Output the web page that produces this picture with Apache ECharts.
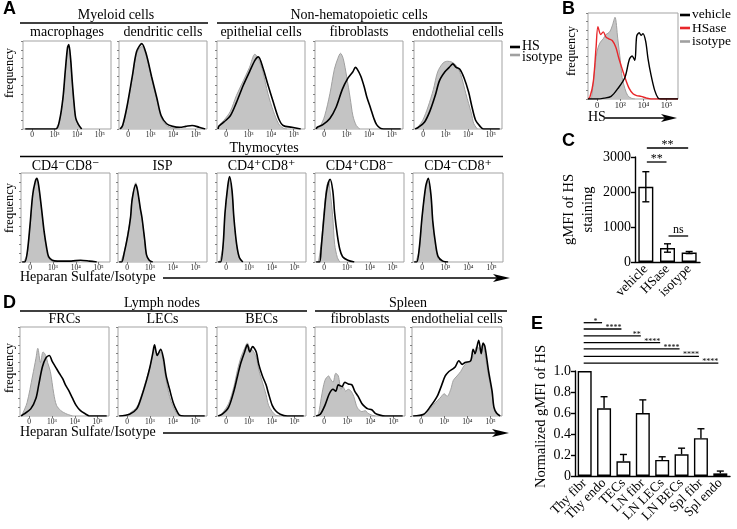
<!DOCTYPE html>
<html><head><meta charset="utf-8">
<script src="https://cdn.jsdelivr.net/npm/echarts@6/dist/echarts.min.js"></script>
<style>html,body{margin:0;padding:0;background:#fff}#c{width:737px;height:529px}</style>
</head><body><div id="c"></div>
<script>
// ---------- DATA (x = display position in decades, 2 = "0"; y = % of max) ----------
const tickValues = [2, 3, 4, 5];
const tickLabels = {2: '0', 3: '10³', 4: '10⁴', 5: '10⁵'};

// Panel A, myeloid / non-hematopoietic
const macroHS  = [[1.7,0],[3.05,0],[3.22,10],[3.37,35],[3.47,65],[3.57,92],[3.63,96],[3.71,80],[3.78,55],[3.86,30],[3.94,12],[4.06,5],[4.2,0]];
const macroIso = [[3.05,0],[3.22,9],[3.37,33],[3.47,62],[3.57,89],[3.63,94],[3.71,78],[3.78,52],[3.86,28],[3.94,11],[4.06,4],[4.17,0]];
const dcHS  = [[1.65,0],[1.76,4],[1.95,25],[2.19,60],[2.38,88],[2.61,97],[2.81,85],[3.04,60],[3.28,35],[3.47,15],[3.71,6],[3.98,3],[4.3,2],[4.56,3],[4.84,4],[5.15,2],[5.42,0]];
const dcIso = [[1.65,0],[1.76,3],[1.95,23],[2.19,58],[2.38,86],[2.61,94],[2.81,83],[3.04,58],[3.28,33],[3.47,13],[3.71,4],[3.98,1],[4.3,0]];
const epiHS  = [[1.65,0],[1.68,3],[1.91,8],[2.19,15],[2.46,30],[2.77,50],[3.04,65],[3.28,78],[3.43,82],[3.63,70],[3.86,50],[4.1,30],[4.33,12],[4.53,4],[4.92,2],[5.31,0]];
const epiIso = [[1.65,0],[1.68,4],[1.91,10],[2.19,20],[2.46,38],[2.77,55],[3.04,70],[3.28,85],[3.43,80],[3.63,65],[3.86,40],[4.1,20],[4.33,6],[4.53,1],[4.7,0]];
const fibHS  = [[1.65,0],[1.7,2],[1.95,5],[2.26,12],[2.54,25],[2.81,45],[3.04,57],[3.28,65],[3.39,70],[3.47,68],[3.63,60],[3.78,48],[3.9,36],[4.06,24],[4.21,12],[4.33,5],[4.49,1],[4.64,0],[5.4,0]];
const fibIso = [[1.7,0],[1.83,3],[2.03,15],[2.26,40],[2.46,68],[2.61,80],[2.73,86],[2.85,80],[3.0,60],[3.16,35],[3.28,15],[3.43,4],[3.59,0]];
const endHS  = [[1.65,0],[1.8,2],[2.07,8],[2.3,20],[2.54,38],[2.73,55],[2.97,65],[3.16,70],[3.32,74],[3.47,70],[3.63,68],[3.82,58],[4.02,42],[4.17,25],[4.33,10],[4.53,3],[4.68,0],[5.4,0]];
const endIso = [[1.7,0],[1.8,3],[1.99,10],[2.22,25],[2.46,45],[2.65,65],[2.89,75],[3.08,77],[3.28,76],[3.47,72],[3.67,62],[3.9,40],[4.14,18],[4.25,6],[4.41,0]];
// Panel A, thymocytes
const dnHS  = [[1.65,0],[1.76,0],[1.87,10],[1.99,40],[2.11,75],[2.22,90],[2.3,94],[2.38,85],[2.5,60],[2.61,35],[2.73,15],[2.81,6],[2.97,2],[3.2,1],[3.8,1],[4.21,2],[4.6,1],[4.92,0]];
const dnIso = [[1.72,0],[1.87,9],[1.99,38],[2.11,73],[2.22,88],[2.3,92],[2.38,83],[2.5,57],[2.61,32],[2.73,12],[2.81,4],[2.97,1],[3.2,0]];
const ispHS  = [[1.65,0],[1.76,0],[1.87,10],[2.03,30],[2.15,50],[2.22,70],[2.38,87],[2.46,80],[2.58,60],[2.65,50],[2.77,25],[2.85,8],[2.97,2],[3.12,0]];
const ispIso = [[1.72,0],[1.87,11],[2.03,32],[2.15,52],[2.22,72],[2.38,89],[2.46,80],[2.58,58],[2.65,48],[2.77,23],[2.85,7],[2.97,1],[3.12,0]];
const dpHS  = [[1.65,0],[1.76,0],[1.87,20],[1.95,55],[2.07,85],[2.15,96],[2.26,80],[2.34,50],[2.46,20],[2.58,5],[2.73,0]];
const dpIso = [[1.72,0],[1.87,18],[1.95,53],[2.07,83],[2.15,93],[2.26,78],[2.34,48],[2.46,18],[2.58,4],[2.73,0]];
const cd4HS  = [[1.65,0],[1.8,0],[1.87,15],[1.99,50],[2.11,80],[2.26,93],[2.38,80],[2.46,55],[2.58,30],[2.69,14],[2.81,6],[3.04,2],[3.32,0]];
const cd4Iso = [[1.75,0],[1.87,20],[1.99,55],[2.11,85],[2.19,90],[2.26,80],[2.38,50],[2.46,20],[2.58,5],[2.69,0]];
const cd8HS  = [[1.65,0],[1.76,0],[1.87,15],[1.99,50],[2.15,85],[2.26,94],[2.38,75],[2.46,45],[2.58,20],[2.69,6],[2.89,1],[3.12,0]];
const cd8Iso = [[1.72,0],[1.87,13],[1.99,48],[2.15,83],[2.26,91],[2.38,72],[2.46,42],[2.58,17],[2.69,4],[2.89,0]];
// Panel D
const frcHS  = [[1.65,0],[1.76,2],[2.07,8],[2.3,20],[2.42,35],[2.58,55],[2.73,65],[2.89,68],[3.0,62],[3.16,55],[3.32,48],[3.47,42],[3.59,35],[3.75,28],[3.9,20],[4.06,12],[4.25,6],[4.49,2],[4.64,0],[5.4,0]];
const frcIso = [[1.65,0],[1.72,3],[1.91,15],[2.15,45],[2.3,65],[2.38,76],[2.5,60],[2.61,72],[2.73,68],[2.81,60],[2.93,50],[3.08,25],[3.2,12],[3.39,6],[3.51,4],[3.67,2],[3.9,0]];
const lecHS  = [[1.65,0],[2.11,2],[2.42,8],[2.61,20],[2.85,40],[3.0,55],[3.12,70],[3.2,80],[3.32,68],[3.47,75],[3.59,65],[3.71,45],[3.86,30],[4.02,15],[4.17,6],[4.29,1],[4.5,0],[5.4,0]];
const lecIso = [[1.9,0],[2.11,3],[2.42,10],[2.61,22],[2.85,42],[3.0,55],[3.12,68],[3.2,76],[3.32,70],[3.47,72],[3.59,60],[3.71,40],[3.86,22],[4.02,10],[4.17,3],[4.29,0]];
const becHS  = [[1.65,0],[1.83,2],[2.11,10],[2.34,28],[2.5,45],[2.65,60],[2.81,72],[2.93,80],[3.04,72],[3.16,78],[3.32,72],[3.43,58],[3.59,45],[3.75,35],[3.86,25],[4.02,12],[4.17,6],[4.37,2],[4.68,0],[5.4,0]];
const becIso = [[1.7,0],[1.83,3],[2.11,14],[2.34,33],[2.5,52],[2.65,66],[2.81,76],[2.93,82],[3.04,76],[3.16,74],[3.32,66],[3.43,52],[3.59,38],[3.75,24],[3.86,12],[4.02,5],[4.17,1],[4.37,0]];
const splFibHS  = [[1.65,0],[1.83,2],[2.03,12],[2.22,25],[2.38,30],[2.5,28],[2.61,35],[2.77,33],[2.89,38],[3.04,36],[3.2,35],[3.32,28],[3.47,22],[3.63,14],[3.78,10],[3.9,8],[4.06,7],[4.21,3],[4.41,1],[4.64,0],[5.4,0]];
const splFibIso = [[1.7,0],[1.76,3],[1.87,20],[2.03,40],[2.19,45],[2.26,42],[2.38,38],[2.5,48],[2.61,45],[2.73,30],[2.81,33],[2.93,28],[3.04,30],[3.16,28],[3.28,22],[3.39,12],[3.47,8],[3.63,5],[3.78,6],[3.9,3],[4.06,1],[4.21,0]];
const splEndHS  = [[1.65,0],[2.11,2],[2.38,10],[2.69,22],[2.89,35],[3.04,45],[3.2,50],[3.32,52],[3.47,55],[3.63,62],[3.78,58],[3.9,60],[4.14,62],[4.25,75],[4.33,70],[4.49,85],[4.6,70],[4.68,82],[4.76,78],[4.92,50],[5.07,28],[5.15,10],[5.27,3],[5.42,0]];
const splEndIso = [[1.9,0],[2.11,2],[2.38,8],[2.61,15],[2.81,20],[3.0,25],[3.12,22],[3.28,30],[3.39,40],[3.55,45],[3.71,50],[3.82,55],[3.98,60],[4.14,62],[4.29,70],[4.41,78],[4.56,75],[4.68,82],[4.76,70],[4.92,45],[5.07,25],[5.15,8],[5.27,2],[5.42,0]];
// Panel B
const bVehicle = [[1.6,0],[2.0,0],[2.3,1],[2.6,3],[2.89,12],[3.2,25],[3.39,46],[3.51,50],[3.63,45],[3.71,73],[3.82,77],[3.9,74],[3.98,76],[4.1,67],[4.2,47],[4.33,28],[4.49,10],[4.64,1],[4.75,0],[5.5,0]];
const bHSase   = [[1.6,0],[1.68,2],[1.83,20],[1.95,60],[2.03,84],[2.15,75],[2.26,78],[2.38,72],[2.5,70],[2.65,68],[2.81,60],[2.93,48],[3.08,35],[3.24,22],[3.39,12],[3.55,6],[3.71,4],[3.9,3],[4.14,1],[4.33,0],[5.5,0]];
const bIsotype = [[1.7,0],[1.76,3],[1.87,30],[1.99,55],[2.11,65],[2.26,70],[2.38,75],[2.54,78],[2.65,85],[2.77,95],[2.89,70],[3.0,45],[3.08,25],[3.2,12],[3.32,4],[3.47,1],[3.63,0]];
// Panel C
const cCats = ['vehicle', 'HSase', 'isotype'];
const cMean = [2150, 400, 270];
const cErr  = [430, 120, 30];
const cSig  = [[0, 2, 3257, '**'], [0, 1, 2857, '**'], [1, 2, 743, 'ns']];
// Panel E
const eCats = ['Thy fibr', 'Thy endo', 'TECs', 'LN fibr', 'LN LECs', 'LN BECs', 'Spl fibr', 'Spl endo'];
const eMean = [1.0, 0.645, 0.14, 0.60, 0.153, 0.207, 0.36, 0.025];
const eErr  = [0, 0.11, 0.065, 0.125, 0.03, 0.058, 0.09, 0.022];
const eSig  = [[0,1,1.46,'*'],[0,2,1.40,'****'],[0,3,1.335,'**'],[0,4,1.27,'****'],[0,5,1.21,'****'],[0,6,1.14,'****'],[0,7,1.075,'****']];

// ---------- LAYOUT ----------
const SERIF = '"Liberation Serif","DejaVu Serif",serif';
const SANS = '"Liberation Sans",Arial,sans-serif';
const histPanels = [
  {box:[23,41,88,88], title:'macrophages', hs:macroHS, iso:macroIso},
  {box:[119,41,88,88], title:'dendritic cells', hs:dcHS, iso:dcIso},
  {box:[217,41,88,88], title:'epithelial cells', hs:epiHS, iso:epiIso},
  {box:[315,41,88,88], title:'fibroblasts', hs:fibHS, iso:fibIso},
  {box:[414,41,88,88], title:'endothelial cells', hs:endHS, iso:endIso},
  {box:[21,173,89,89], title:'CD4⁻CD8⁻', hs:dnHS, iso:dnIso},
  {box:[118,173,89,89], title:'ISP', hs:ispHS, iso:ispIso},
  {box:[217,173,89,89], title:'CD4⁺CD8⁺', hs:dpHS, iso:dpIso},
  {box:[315,173,89,89], title:'CD4⁺CD8⁻', hs:cd4HS, iso:cd4Iso},
  {box:[413,173,90,89], title:'CD4⁻CD8⁺', hs:cd8HS, iso:cd8Iso},
  {box:[20,327,89,89], title:'FRCs', hs:frcHS, iso:frcIso},
  {box:[118,327,89,89], title:'LECs', hs:lecHS, iso:lecIso},
  {box:[217,327,89,89], title:'BECs', hs:becHS, iso:becIso},
  {box:[315,327,90,89], title:'fibroblasts', hs:splFibHS, iso:splFibIso},
  {box:[412,327,90,89], title:'endothelial cells', hs:splEndHS, iso:splEndIso}
];

const grid = [], xAxis = [], yAxis = [], series = [];
function histAxes(i, b, fs) {
  grid.push({left:b[0], top:b[1], width:b[2], height:b[3], show:true, borderColor:'#a3a3a3', borderWidth:1,
    backgroundColor:'rgba(0,0,0,0)', containLabel:false, outerBoundsMode:'none'});
  xAxis.push({gridIndex:i, type:'value', min:1.6, max:5.5, axisLine:{show:false}, splitLine:{show:false},
    axisTick:{show:true, customValues:tickValues, length:2, lineStyle:{color:'#555', width:0.8}},
    axisLabel:{show:true, customValues:tickValues, formatter:v => tickLabels[Math.round(v)] || '', fontSize:fs || 7.5,
      fontFamily:SERIF, color:'#222', margin:2}});
  yAxis.push({gridIndex:i, type:'value', min:0, max:100, interval:10, axisLine:{show:false}, splitLine:{show:false},
    axisTick:{show:true, length:2, lineStyle:{color:'#666', width:0.8}}, axisLabel:{show:false}});
}
function isoSeries(i, data) {
  return {type:'line', xAxisIndex:i, yAxisIndex:i, data, symbol:'none', smooth:0.3, z:2, silent:true,
    lineStyle:{color:'#a0a0a0', width:1}, areaStyle:{color:'#c4c4c4', opacity:1}};
}
function lineSeries(i, data, color, w) {
  return {type:'line', xAxisIndex:i, yAxisIndex:i, data, symbol:'none', smooth:0.3, z:3, silent:true,
    lineStyle:{color, width:w}};
}
histPanels.forEach((p, i) => {
  histAxes(i, p.box);
  series.push(isoSeries(i, p.iso));
  series.push(lineSeries(i, p.hs, '#000', 1.6));
});
// Panel B (index 15)
histAxes(15, [588,13,90,86], 8.5);
series.push(isoSeries(15, bIsotype));
series.push(lineSeries(15, bHSase, '#e8262a', 1.4));
series.push(lineSeries(15, bVehicle, '#000', 1.4));

function errRender(both) {
  return function (params, api) {
    const x = api.value(0), m = api.value(1), e = api.value(2);
    if (!e) return null;
    const top = api.coord([x, m + e]);
    const bot = api.coord([x, both ? m - e : m]);
    const hw = 3.5, st = {stroke:'#000', lineWidth:1.4};
    const ch = [
      {type:'line', shape:{x1:top[0], y1:top[1], x2:bot[0], y2:bot[1]}, style:st},
      {type:'line', shape:{x1:top[0]-hw, y1:top[1], x2:top[0]+hw, y2:top[1]}, style:st}
    ];
    if (both) ch.push({type:'line', shape:{x1:bot[0]-hw, y1:bot[1], x2:bot[0]+hw, y2:bot[1]}, style:st});
    return {type:'group', children:ch};
  };
}
const axStyle = {lineStyle:{color:'#000', width:1.4}};
// Panel C (index 16)
grid.push({left:635, top:157, width:65, height:105, containLabel:false, outerBoundsMode:'none'});
xAxis.push({gridIndex:16, type:'category', data:cCats, axisLine:axStyle,
  axisTick:{alignWithLabel:true, length:4, lineStyle:{color:'#000', width:1.4}},
  axisLabel:{rotate:45, fontSize:13.5, fontFamily:SERIF, color:'#000', margin:5, interval:0}});
yAxis.push({gridIndex:16, type:'value', min:0, max:3000, interval:1000, axisLine:{show:true, ...axStyle},
  axisTick:{show:true, length:4, lineStyle:{color:'#000', width:1.4}}, splitLine:{show:false},
  axisLabel:{fontSize:14, fontFamily:SERIF, color:'#000', margin:4, formatter:v => String(v)},
  name:'gMFI of HS\nstaining', nameLocation:'middle', nameGap:37, nameRotate:90,
  nameTextStyle:{fontSize:14.5, fontFamily:SERIF, color:'#000', lineHeight:19}});
series.push({type:'bar', xAxisIndex:16, yAxisIndex:16, data:cMean, barWidth:15, silent:true,
  itemStyle:{color:'#fff', borderColor:'#000', borderWidth:1.4}});
series.push({type:'custom', xAxisIndex:16, yAxisIndex:16, data:cMean.map((m, k) => [k, m, cErr[k]]),
  renderItem:errRender(true), z:5, silent:true});
// Panel E (index 17)
grid.push({left:575, top:371, width:155, height:105, containLabel:false, outerBoundsMode:'none'});
xAxis.push({gridIndex:17, type:'category', data:eCats, axisLine:axStyle,
  axisTick:{alignWithLabel:true, length:4, lineStyle:{color:'#000', width:1.4}},
  axisLabel:{rotate:45, fontSize:13.5, fontFamily:SERIF, color:'#000', margin:5, interval:0}});
yAxis.push({gridIndex:17, type:'value', min:0, max:1, interval:0.2, axisLine:{show:true, ...axStyle},
  axisTick:{show:true, length:4, lineStyle:{color:'#000', width:1.4}}, splitLine:{show:false},
  axisLabel:{fontSize:14, fontFamily:SERIF, color:'#000', margin:4, formatter:v => v === 0 ? '0' : v.toFixed(1)},
  name:'Normalized gMFI of HS', nameLocation:'middle', nameGap:26, nameRotate:90,
  nameTextStyle:{fontSize:14.5, fontFamily:SERIF, color:'#000', padding:[0, 0, 0, 14]}});
series.push({type:'bar', xAxisIndex:17, yAxisIndex:17, data:eMean, barWidth:14, silent:true,
  itemStyle:{color:'#fff', borderColor:'#000', borderWidth:1.4}});
series.push({type:'custom', xAxisIndex:17, yAxisIndex:17, data:eMean.map((m, k) => [k, m, eErr[k]]),
  renderItem:errRender(false), z:5, silent:true});

const chart = echarts.init(document.getElementById('c'), null, {renderer:'canvas', width:737, height:529});
chart.setOption({animation:false, backgroundColor:'#fff', grid, xAxis, yAxis, series});

// ---------- annotations ----------
const el = [];
function txt(t, x, y, o) {
  o = o || {};
  el.push({type:'text', x, y, rotation:o.rot || 0, silent:true, z:10,
    style:{text:t, x:0, y:0, fill:o.color || '#000', fontSize:o.size || 14, fontFamily:o.family || SERIF,
      fontWeight:o.weight || 'normal', align:o.align || 'center', verticalAlign:o.va || 'middle'}});
}
function ln(x1, y1, x2, y2, w, c) {
  el.push({type:'line', silent:true, z:10, shape:{x1, y1, x2, y2}, style:{stroke:c || '#000', lineWidth:w || 1.3}});
}
function arrowHead(tipX, y, len, half) {
  el.push({type:'polygon', silent:true, z:10, shape:{points:[[tipX-len, y-half], [tipX, y], [tipX-len, y+half], [tipX-len+4, y]]},
    style:{fill:'#000'}});
}
// panel letters
txt('A', 3, 9, {family:SANS, weight:'bold', size:18, align:'left'});
txt('B', 562, 9, {family:SANS, weight:'bold', size:18, align:'left'});
txt('C', 562, 141, {family:SANS, weight:'bold', size:18, align:'left'});
txt('D', 3, 303, {family:SANS, weight:'bold', size:18, align:'left'});
txt('E', 531, 324, {family:SANS, weight:'bold', size:18, align:'left'});
// headers
txt('Myeloid cells', 116, 15); ln(20, 23, 208, 23);
txt('Non-hematopoietic cells', 359, 15); ln(217, 23, 502, 23);
txt('Thymocytes', 264, 148); ln(20, 156.5, 503, 156.5);
txt('Lymph nodes', 162, 303); ln(20, 311, 307, 311);
txt('Spleen', 408, 303); ln(315, 311, 507, 311);
// subtitles
histPanels.forEach((p, i) => {
  const y = i < 5 ? 32 : (i < 10 ? 166.5 : 319);
  txt(p.title, p.box[0] + p.box[2] / 2, y);
});
// frequency labels
txt('frequency', 10, 73, {rot:Math.PI/2, size:12.5});
txt('frequency', 10, 208, {rot:Math.PI/2, size:12.5});
txt('frequency', 10, 368, {rot:Math.PI/2, size:12.5});
txt('frequency', 572, 51, {rot:Math.PI/2, size:12.5});
// x-axis arrows
txt('Heparan Sulfate/Isotype', 20, 277, {align:'left'}); ln(163, 278, 497, 278, 1.5); arrowHead(510, 278, 17, 4);
txt('Heparan Sulfate/Isotype', 20, 432, {align:'left'}); ln(163, 433, 497, 433, 1.5); arrowHead(509, 433, 17, 4);
txt('HS', 588, 117.5, {align:'left'}); ln(605, 118, 666, 118, 1.5); arrowHead(677, 118, 16, 4);
// legend A
ln(510, 47, 520, 47, 2.6, '#000'); txt('HS', 522, 46.5, {align:'left'});
ln(510, 55, 520, 55, 2.6, '#a0a0a0'); txt('isotype', 522, 57, {align:'left'});
// legend B
ln(680, 15, 690, 15, 2.6, '#000'); txt('vehicle', 692, 14.5, {align:'left', size:13.5});
ln(680, 28, 690, 28, 2.6, '#e8262a'); txt('HSase', 692, 28, {align:'left', size:13.5});
ln(680, 41.5, 690, 41.5, 2.6, '#a0a0a0'); txt('isotype', 692, 41.5, {align:'left', size:13.5});

// significance brackets placed through the axes' scales
cSig.forEach(s => {
  const x1 = chart.convertToPixel({xAxisIndex:16}, cCats[s[0]]);
  const x2 = chart.convertToPixel({xAxisIndex:16}, cCats[s[1]]);
  const y = chart.convertToPixel({yAxisIndex:16}, s[2]);
  ln(x1 + 1, y, x2 - 1, y, 1.3);
  txt(s[3], (x1 + x2) / 2, s[3] === 'ns' ? y - 6 : y - 3, {size:12});
});
eSig.forEach((s, k) => {
  const x1 = chart.convertToPixel({xAxisIndex:17}, eCats[s[0]]);
  const x2 = chart.convertToPixel({xAxisIndex:17}, eCats[s[1]]);
  const y = chart.convertToPixel({yAxisIndex:17}, s[2]);
  ln(x1 - 1, y, x2 - 2, y, 1.3);
  if (k === 0) txt(s[3], (x1 + x2) / 2 + 1, y - 1, {size:8});
  else txt(s[3], x2 - 2, y - 1, {size:8, align:'right'});
});
chart.setOption({graphic:{elements:el}});
</script>
</body></html>
